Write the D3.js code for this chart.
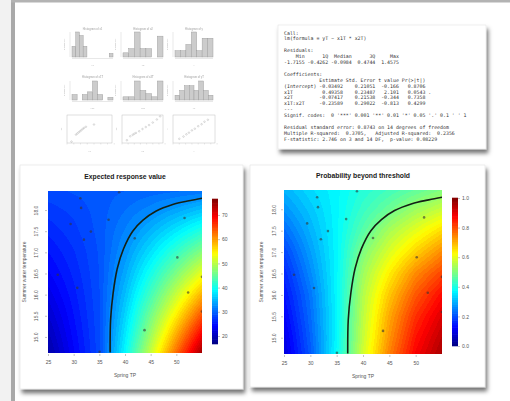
<!DOCTYPE html>
<html><head><meta charset="utf-8">
<script src="https://cdn.jsdelivr.net/npm/d3@7"></script>
<style>body{margin:0;background:#fff;overflow:hidden} svg{display:block}</style>
</head><body>
<svg id="c" width="510" height="401"></svg>
<script>
// ---------------- data ----------------
const tpTicks = [25, 30, 35, 40, 45, 50];
const tempTicks = [15.0, 15.5, 16.0, 16.5, 17.0, 17.5, 18.0];
const respTicks = [20, 30, 40, 50, 60, 70];
const probTicks = [0, 0.2, 0.4, 0.6, 0.8, 1.0];
const respRange = [16.7, 76.6];
const probRange = [0, 1];

const gridTP = [25, 30, 35, 40, 45, 50, 55];
const gridTemp = [14.6, 15.0, 15.5, 16.0, 16.5, 17.0, 17.5, 18.0, 18.45];
const respGrid = [
  [19.0, 24.0, 28.5, 39.0, 51.0, 63.0, 75.0],
  [20.0, 24.5, 28.6, 38.0, 48.7, 59.6, 70.4],
  [21.3, 25.1, 28.7, 36.7, 46.0, 55.2, 64.6],
  [22.7, 25.7, 28.8, 35.4, 43.1, 50.9, 58.8],
  [24.0, 26.3, 28.9, 34.1, 40.3, 46.6, 52.9],
  [25.1, 26.9, 29.0, 32.9, 37.5, 42.3, 47.1],
  [26.3, 27.6, 29.2, 31.8, 34.8, 38.0, 41.3],
  [27.5, 28.2, 29.3, 30.7, 32.2, 33.9, 35.7],
  [28.5, 29.0, 29.4, 29.8, 30.2, 30.6, 31.0]
];
const probGrid = [
  [0.09, 0.21, 0.38, 0.58, 0.75, 0.88, 0.96],
  [0.10, 0.22, 0.37, 0.57, 0.73, 0.86, 0.94],
  [0.12, 0.23, 0.37, 0.56, 0.71, 0.83, 0.91],
  [0.14, 0.24, 0.37, 0.55, 0.68, 0.79, 0.87],
  [0.16, 0.26, 0.37, 0.53, 0.64, 0.74, 0.81],
  [0.19, 0.28, 0.37, 0.50, 0.59, 0.67, 0.74],
  [0.23, 0.30, 0.37, 0.46, 0.54, 0.60, 0.66],
  [0.27, 0.32, 0.37, 0.43, 0.48, 0.53, 0.57],
  [0.30, 0.34, 0.37, 0.41, 0.44, 0.47, 0.50]
];

const obsTP   = [31.3, 31.45, 29.4, 36.8, 33.35, 32.0, 41.9, 51.6, 50.2, 55.0, 30.7, 52.3, 55.0, 43.8, 35.05, 38.85, 26.9];
const obsTemp = [18.28, 18.05, 17.67, 17.77, 17.49, 17.30, 17.33, 17.81, 16.88, 16.42, 16.16, 16.05, 15.6, 15.16, 14.65, 18.42, 16.47];

const contourTP   = [37.1, 37.2, 37.7, 38.5, 39.7, 41.5, 43.5, 46.0, 49.3, 52.5, 55.0];
const contourTemp = [14.63, 15.42, 16.05, 16.62, 17.08, 17.5, 17.76, 17.97, 18.13, 18.22, 18.28];

const consoleLines = [
  "Call:",
  "lm(formula = yT ~ x1T * x2T)",
  "",
  "Residuals:",
  "    Min      1Q  Median      3Q     Max ",
  "-1.7155 -0.4262 -0.0984  0.4744  1.4575 ",
  "",
  "Coefficients:",
  "            Estimate Std. Error t value Pr(>|t|)  ",
  "(Intercept) -0.03492    0.21051  -0.166   0.8706  ",
  "x1T          0.49358    0.23487   2.101   0.0543 .",
  "x2T         -0.07417    0.21538  -0.344   0.7358  ",
  "x1T:x2T     -0.23589    0.29022  -0.813   0.4299  ",
  "---",
  "Signif. codes:  0 '***' 0.001 '**' 0.01 '*' 0.05 '.' 0.1 ' ' 1",
  "",
  "Residual standard error: 0.8743 on 14 degrees of freedom",
  "Multiple R-squared:  0.3705,\u00a0\u00a0\u00a0Adjusted R-squared:  0.2356 ",
  "F-statistic: 2.746 on 3 and 14 DF,  p-value: 0.08229"
];

const histTitles = ["Histogram of x1", "Histogram of x2", "Histogram of y", "Histogram of x1T", "Histogram of x2T", "Histogram of yT"];
const histLabels = ["x1", "x2", "y", "x1T", "x2T", "yT"];
const histCounts = [
  [3, 7, 6, 3, 0, 0, 0, 0, 0, 0, 1],
  [1, 2, 6, 2, 2, 0, 5],
  [1, 1, 2, 4, 1, 3, 3],
  [2, 0, 2, 3, 7, 2, 0, 1],
  [1, 1, 6, 3, 2, 1, 6],
  [1, 2, 3, 3, 2, 4, 2, 1]
];
const scatterLabels = ["x1", "x2", "y"];
const scatterX = [
  [1.0, 2.0, 2.3, 2.6, 2.9, 3.2, 3.5, 3.8, 4.2, 6.0],
  [1.2, 2.0, 2.6, 3.0, 3.4, 4.2, 5.0, 5.8, 6.6, 7.5, 8.5, 9.3],
  [1.5, 2.5, 3.2, 3.8, 4.5, 5.2, 6.0, 6.8, 7.5, 8.3]
];
const scatterY = [
  [0.5, 3.0, 3.4, 3.8, 4.2, 4.6, 5.0, 5.4, 5.8, 6.6],
  [1.0, 2.4, 2.9, 3.3, 3.6, 4.2, 5.0, 5.7, 6.4, 7.3, 8.4, 9.5],
  [1.5, 2.3, 3.1, 3.7, 4.5, 5.1, 6.0, 6.7, 7.6, 8.3]
];

// ---------------- drawing ----------------
const svg = d3.select('#c');
const FONT = "'Liberation Sans', Arial, sans-serif";
const defs = svg.append('defs');
const flt = defs.append('filter').attr('id', 'sh').attr('x', '-10%').attr('y', '-10%').attr('width', '125%').attr('height', '130%');
flt.append('feDropShadow').attr('dx', 2).attr('dy', 4).attr('stdDeviation', 2.2).attr('flood-color', '#000').attr('flood-opacity', 0.55);

svg.append('rect').attr('width', 510).attr('height', 401).attr('fill', '#fff');
svg.append('rect').attr('x', 0).attr('y', 0).attr('width', 11).attr('height', 401).attr('fill', '#f2f2f2');
svg.append('rect').attr('x', 11).attr('y', 0).attr('width', 4).attr('height', 401).attr('fill', '#a9a9a9');
svg.append('rect').attr('x', 11).attr('y', 0).attr('width', 499).attr('height', 2.5).attr('fill', '#b3b3b3');

// ---- top-left: histogram grid ----
const hg = svg.append('g').attr('opacity', 0.85);
const colX = [[72, 113], [123, 163], [175, 213]];
const rowH = [[32, 57], [81, 100]];
const rowTitle = [29.5, 78];
histCounts.forEach((counts, k) => {
  const r = Math.floor(k / 3), cI = k % 3;
  const bx = d3.scaleBand().domain(d3.range(counts.length)).range(colX[cI]).padding(0);
  const by = d3.scaleLinear().domain([0, d3.max(counts)]).range([rowH[r][1], rowH[r][0]]);
  const g = hg.append('g');
  g.selectAll('rect').data(counts).join('rect')
    .attr('x', (d, i) => bx(i)).attr('width', bx.bandwidth())
    .attr('y', d => by(d)).attr('height', d => by(0) - by(d))
    .attr('fill', '#c4c4c4').attr('stroke', '#8a8a8a').attr('stroke-width', 0.45);
  g.append('line').attr('x1', colX[cI][0]).attr('x2', colX[cI][1]).attr('y1', rowH[r][1] + 1.5).attr('y2', rowH[r][1] + 1.5).attr('stroke', '#bbb').attr('stroke-width', 0.4);
  g.append('line').attr('x1', colX[cI][0] - 2).attr('x2', colX[cI][0] - 2).attr('y1', rowH[r][0]).attr('y2', rowH[r][1]).attr('stroke', '#bbb').attr('stroke-width', 0.4);
  g.append('text').attr('x', (colX[cI][0] + colX[cI][1]) / 2).attr('y', rowTitle[r]).attr('text-anchor', 'middle')
    .attr('font-size', 2.6).attr('font-weight', 'bold').attr('fill', '#aaa').attr('font-family', FONT).text(histTitles[k]);
  g.append('text').attr('x', (colX[cI][0] + colX[cI][1]) / 2).attr('y', rowH[r][1] + 8.5).attr('text-anchor', 'middle')
    .attr('font-size', 2.4).attr('fill', '#aaa').attr('font-family', FONT).text(histLabels[k]);
  g.append('text').attr('transform', `translate(${colX[cI][0] - 7},${(rowH[r][0] + rowH[r][1]) / 2}) rotate(-90)`).attr('text-anchor', 'middle')
    .attr('font-size', 2.4).attr('fill', '#aaa').attr('font-family', FONT).text('Frequency');
});
const scBox = [[67, 112], [122, 163], [173, 215]];
scatterX.forEach((xs, k) => {
  const sx = d3.scaleLinear().domain([0, 10]).range(scBox[k]);
  const sy = d3.scaleLinear().domain([0, 10]).range([143, 115]);
  const g = hg.append('g');
  g.append('rect').attr('x', scBox[k][0]).attr('y', 115).attr('width', scBox[k][1] - scBox[k][0]).attr('height', 28)
    .attr('fill', 'none').attr('stroke', '#b5b5b5').attr('stroke-width', 0.5);
  g.selectAll('circle').data(xs).join('circle').attr('cx', d => sx(d)).attr('cy', (d, i) => sy(scatterY[k][i])).attr('r', 0.8)
    .attr('fill', 'none').attr('stroke', '#999').attr('stroke-width', 0.4);
  g.selectAll('line.t').data(d3.range(0, 11, 1.5)).join('line').attr('class', 't')
    .attr('x1', d => sx(d)).attr('x2', d => sx(d)).attr('y1', 143).attr('y2', 144.5).attr('stroke', '#bbb').attr('stroke-width', 0.4);
  g.append('text').attr('x', (scBox[k][0] + scBox[k][1]) / 2).attr('y', 152).attr('text-anchor', 'middle')
    .attr('font-size', 2.4).attr('fill', '#aaa').attr('font-family', FONT).text(scatterLabels[k]);
  g.append('text').attr('transform', `translate(${scBox[k][0] - 5},129) rotate(-90)`).attr('text-anchor', 'middle')
    .attr('font-size', 2.4).attr('fill', '#aaa').attr('font-family', FONT).text(scatterLabels[k]);
});

// ---- top-right: console output ----
svg.append('rect').attr('x', 278).attr('y', 25).attr('width', 208).attr('height', 124).attr('fill', '#fff')
  .attr('stroke', '#e4e4e4').attr('stroke-width', 0.6).attr('filter', 'url(#sh)');
svg.append('g').selectAll('text').data(consoleLines).join('text')
  .attr('x', 284).attr('y', (d, i) => 34.5 + i * 5.9)
  .attr('font-family', "'DejaVu Sans Mono', 'Liberation Mono', monospace").attr('font-size', 4.9)
  .attr('fill', '#333').attr('xml:space', 'preserve').style('white-space', 'pre').text(d => d);

// ---- bottom cards ----
svg.append('rect').attr('x', 20).attr('y', 165).attr('width', 223).attr('height', 224).attr('fill', '#fff')
  .attr('stroke', '#e2e2e2').attr('stroke-width', 0.6).attr('filter', 'url(#sh)');
svg.append('rect').attr('x', 250).attr('y', 165).attr('width', 235).attr('height', 222).attr('fill', '#fff')
  .attr('stroke', '#e2e2e2').attr('stroke-width', 0.6).attr('filter', 'url(#sh)');

// jet palette (64 levels)
const jetCols = ["#00007F", "#0000FF", "#007FFF", "#00FFFF", "#7FFF7F", "#FFFF00", "#FF7F00", "#FF0000", "#7F0000"];
const jet = d3.scaleLinear().domain(jetCols.map((_, i) => i / 8)).range(jetCols).clamp(true);
const pal = d3.range(64).map(k => d3.rgb(jet((k + 0.5) / 64)));

function panel(cfg) {
  const x = d3.scaleLinear().domain([25, 55]).range([cfg.x0, cfg.x1]);
  const y = d3.scaleLinear().domain([14.62, 18.45]).range([cfg.y1, cfg.y0]);
  const cz = d3.scaleLinear().domain(cfg.zRange).range([0, 1]).clamp(true);
  const gi = d3.scaleLinear().domain(gridTP).range(d3.range(gridTP.length)).clamp(true);
  const gj = d3.scaleLinear().domain(gridTemp).range(d3.range(gridTemp.length)).clamp(true);
  const w = cfg.x1 - cfg.x0, h = cfg.y1 - cfg.y0;
  const cv = document.createElement('canvas'); cv.width = w; cv.height = h;
  const ctx = cv.getContext('2d'); const img = ctx.createImageData(w, h);
  for (let j = 0; j < h; j++) {
    const fy = gj(y.invert(cfg.y0 + j + 0.5));
    const iy = Math.min(Math.floor(fy), gridTemp.length - 2), ty = fy - iy;
    for (let i = 0; i < w; i++) {
      const fx = gi(x.invert(cfg.x0 + i + 0.5));
      const ix = Math.min(Math.floor(fx), gridTP.length - 2), tx = fx - ix;
      const G = cfg.grid;
      const v = (1 - ty) * ((1 - tx) * G[iy][ix] + tx * G[iy][ix + 1]) + ty * ((1 - tx) * G[iy + 1][ix] + tx * G[iy + 1][ix + 1]);
      const k = Math.max(0, Math.min(63, Math.floor(cz(v) * 64)));
      const c = pal[k], p = (j * w + i) * 4;
      img.data[p] = c.r; img.data[p + 1] = c.g; img.data[p + 2] = c.b; img.data[p + 3] = 255;
    }
  }
  ctx.putImageData(img, 0, 0);
  svg.append('image').attr('x', cfg.x0).attr('y', cfg.y0).attr('width', w).attr('height', h)
    .attr('preserveAspectRatio', 'none').attr('href', cv.toDataURL());

  const clipId = 'clip' + cfg.id;
  defs.append('clipPath').attr('id', clipId).append('rect').attr('x', cfg.x0).attr('y', cfg.y0).attr('width', w).attr('height', h);
  const pg = svg.append('g').attr('clip-path', `url(#${clipId})`);
  pg.append('path').datum(d3.zip(contourTP, contourTemp))
    .attr('d', d3.line().x(d => x(d[0])).y(d => y(d[1])).curve(d3.curveCatmullRom))
    .attr('fill', 'none').attr('stroke', '#142014').attr('stroke-width', 1.6);
  pg.selectAll('circle').data(obsTP).join('circle')
    .attr('cx', d => x(d)).attr('cy', (d, i) => y(obsTemp[i])).attr('r', 1.3)
    .attr('fill', '#333').attr('opacity', 0.6);

  const tickStyle = g => {
    g.select('.domain').remove();
    g.selectAll('line').attr('stroke', '#888').attr('stroke-width', 0.5);
    g.selectAll('text').attr('fill', '#555').attr('font-size', 5).attr('font-family', FONT);
  };
  svg.append('g').attr('transform', `translate(0,${cfg.y1 + 1})`)
    .call(d3.axisBottom(x).tickValues(tpTicks).tickSize(2).tickPadding(4).tickFormat(d3.format('d'))).call(tickStyle);
  const gy = svg.append('g').attr('transform', `translate(${cfg.x0 - 1},0)`)
    .call(d3.axisLeft(y).tickValues(tempTicks).tickSize(2).tickPadding(0).tickFormat(d3.format('.1f'))).call(tickStyle);
  gy.selectAll('text').attr('text-anchor', 'middle').attr('dy', 0)
    .attr('transform', d => `translate(${-cfg.ylabOff},0) rotate(-90)`).attr('x', 0);

  // colorbar
  const cb = d3.scaleLinear().domain(cfg.zRange).range([cfg.cb1, cfg.cb0]);
  const cbg = svg.append('g');
  cbg.selectAll('rect').data(d3.range(64)).join('rect')
    .attr('x', cfg.cbx).attr('width', 6)
    .attr('y', k => cb(cfg.zRange[0] + (k + 1) / 64 * (cfg.zRange[1] - cfg.zRange[0])) - 0.3)
    .attr('height', (cfg.cb1 - cfg.cb0) / 64 + 0.6)
    .attr('fill', k => pal[k].toString());
  svg.append('g').attr('transform', `translate(${cfg.cbx + 6},0)`)
    .call(d3.axisRight(cb).tickValues(cfg.zTicks).tickSize(2).tickPadding(2).tickFormat(cfg.zFmt)).call(tickStyle);

  svg.append('text').attr('x', (cfg.x0 + cfg.x1) / 2).attr('y', cfg.y0 - 12).attr('text-anchor', 'middle')
    .attr('font-size', 6.8).attr('font-weight', 'bold').attr('fill', '#1a1a1a').attr('font-family', FONT).text(cfg.title);
  svg.append('text').attr('x', (cfg.x0 + cfg.x1) / 2).attr('y', cfg.y1 + 24).attr('text-anchor', 'middle')
    .attr('font-size', 5).attr('fill', '#555').attr('font-family', FONT).text('Spring TP');
  svg.append('text').attr('transform', `translate(${cfg.x0 - cfg.ytitleOff},${(cfg.y0 + cfg.y1) / 2}) rotate(-90)`).attr('text-anchor', 'middle')
    .attr('font-size', 5).attr('fill', '#555').attr('font-family', FONT).text('Summer water temperature');
}

panel({ id: 'L', x0: 48, x1: 202, y0: 191, y1: 353, grid: respGrid, zRange: respRange, zTicks: respTicks,
  zFmt: d3.format('d'), cbx: 212, cb0: 199, cb1: 344, title: 'Expected response value', ylabOff: 9, ytitleOff: 22 });
panel({ id: 'R', x0: 284, x1: 442, y0: 190, y1: 354, grid: probGrid, zRange: probRange, zTicks: probTicks,
  zFmt: d3.format('.1f'), cbx: 452, cb0: 198, cb1: 346, title: 'Probability beyond threshold', ylabOff: 7, ytitleOff: 21 });
</script>
</body></html>
